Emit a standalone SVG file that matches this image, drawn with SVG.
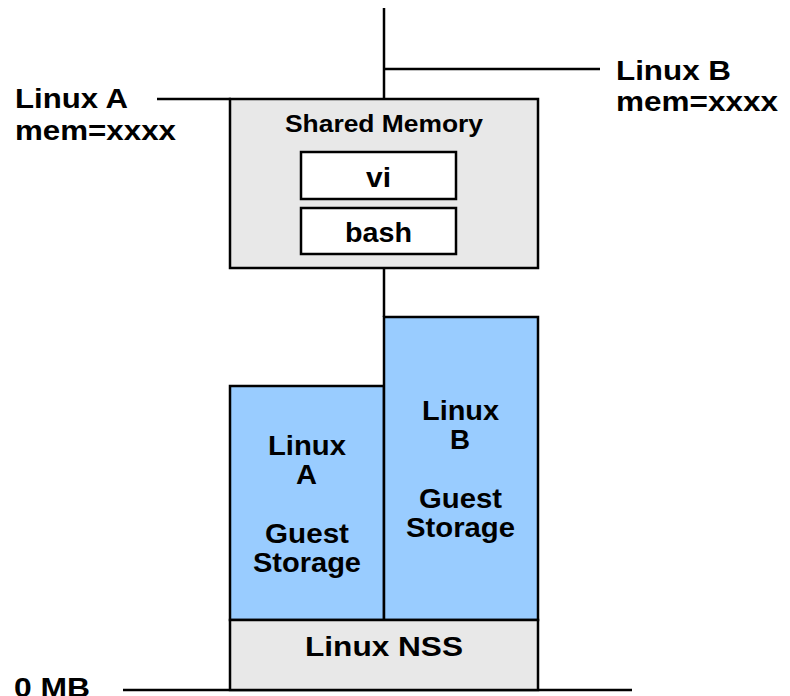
<svg xmlns="http://www.w3.org/2000/svg" width="790" height="696" viewBox="0 0 790 696">
<style>
text{font-family:"Liberation Sans",Arial,sans-serif;font-weight:bold;fill:#000}
.lbl{font-size:28px}
.sm{font-size:23px}
.box{stroke:#000;stroke-width:2.5}
.grey{fill:#e8e8e8}
.blue{fill:#99ccff}
.white{fill:#fff}
.ln{stroke:#000;stroke-width:2.5;fill:none}
</style>
<rect width="790" height="696" fill="#fff"/>
<g id="connectors">
<line class="ln" x1="384" y1="8" x2="384" y2="100"/>
<line class="ln" x1="384" y1="69" x2="600" y2="69"/>
<line class="ln" x1="157" y1="99" x2="231" y2="99"/>
<line class="ln" x1="384" y1="268" x2="384" y2="317"/>
<line class="ln" x1="123" y1="690" x2="632" y2="690"/>
</g>
<g id="label-linux-a">
<text class="lbl" x="15" y="108" textLength="113" lengthAdjust="spacingAndGlyphs">Linux A</text>
<text class="lbl" x="15" y="140" textLength="161" lengthAdjust="spacingAndGlyphs">mem=xxxx</text>
</g>
<g id="label-linux-b">
<text class="lbl" x="616" y="80" textLength="115" lengthAdjust="spacingAndGlyphs">Linux B</text>
<text class="lbl" x="616" y="111" textLength="162" lengthAdjust="spacingAndGlyphs">mem=xxxx</text>
</g>
<g id="label-0mb">
<text class="lbl" x="14" y="697" textLength="76" lengthAdjust="spacingAndGlyphs">0 MB</text>
</g>
<g id="shared-memory">
<rect class="box grey" x="230" y="99" width="308" height="169"/>
<text class="sm" x="285" y="132" textLength="198" lengthAdjust="spacingAndGlyphs">Shared Memory</text>
</g>
<g id="vi">
<rect class="box white" x="301" y="152" width="155" height="47"/>
<text class="lbl" x="366" y="187" textLength="25" lengthAdjust="spacingAndGlyphs">vi</text>
</g>
<g id="bash">
<rect class="box white" x="301" y="208" width="155" height="46"/>
<text class="lbl" x="345" y="242" textLength="67" lengthAdjust="spacingAndGlyphs">bash</text>
</g>
<g id="linux-a-storage">
<rect class="box blue" x="230" y="386" width="154" height="234"/>
<text class="lbl" x="268" y="455" textLength="78" lengthAdjust="spacingAndGlyphs">Linux</text>
<text class="lbl" x="296" y="484" textLength="21" lengthAdjust="spacingAndGlyphs">A</text>
<text class="lbl" x="265" y="543" textLength="84" lengthAdjust="spacingAndGlyphs">Guest</text>
<text class="lbl" x="253" y="572" textLength="108" lengthAdjust="spacingAndGlyphs">Storage</text>
</g>
<g id="linux-b-storage">
<rect class="box blue" x="384" y="317" width="154" height="303"/>
<text class="lbl" x="422" y="420" textLength="77" lengthAdjust="spacingAndGlyphs">Linux</text>
<text class="lbl" x="450" y="449" textLength="20" lengthAdjust="spacingAndGlyphs">B</text>
<text class="lbl" x="419" y="508" textLength="83" lengthAdjust="spacingAndGlyphs">Guest</text>
<text class="lbl" x="406" y="537" textLength="109" lengthAdjust="spacingAndGlyphs">Storage</text>
</g>
<g id="linux-nss">
<rect class="box grey" x="230" y="620" width="308" height="70"/>
<text class="lbl" x="305" y="656" textLength="158" lengthAdjust="spacingAndGlyphs">Linux NSS</text>
</g>
</svg>
